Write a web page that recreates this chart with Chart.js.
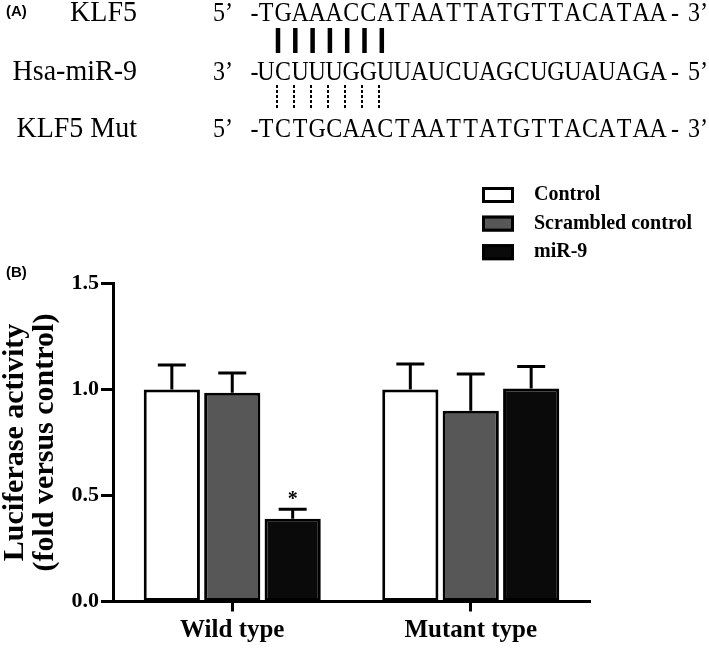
<!DOCTYPE html>
<html>
<head>
<meta charset="utf-8">
<script src="https://cdn.jsdelivr.net/npm/chart.js@4"></script>
<style>
body { margin: 0; background: #fff; }
</style>
</head>
<body>
<canvas id="myChart" width="709" height="650"></canvas>
<script>
// data
const categories = ["Wild type", "Mutant type"];
const seriesNames = ["Control", "Scrambled control", "miR-9"];
const controlValues = [1.0, 1.0];
const controlErr = [0.115, 0.12];
const scrambledValues = [0.985, 0.90];
const scrambledErr = [0.093, 0.173];
const mir9Values = [0.39, 1.005];
const mir9Err = [0.045, 0.103];
const yTicks = [0, 0.5, 1.0, 1.5];
const starred = [[2, 0]]; // dataset, category

// panel A text
const seqNames = ["KLF5", "Hsa-miR-9", "KLF5 Mut"];
const seqStart = ["5\u2019", "3\u2019", "5\u2019"];
const seqEnd = ["3\u2019", "5\u2019", "3\u2019"];
const seqs = ["TGAAACCATAATTATGTTACATAA", "UCUUUGGUUAUCUAGCUGUAUAGA", "TCTGCAACTAATTATGTTACATAA"];
const pairCount = 7;

const barColors = ["#ffffff", "#575757", "#0a0a0a"];
const errs = [controlErr, scrambledErr, mir9Err];

Chart.defaults.font.family = "'Liberation Serif', 'Times New Roman', serif";
Chart.defaults.color = "#000";

// text drawn a bit taller than wide, like the original figure
function tallText(ctx, txt, x, y, sy) {
  ctx.save();
  ctx.translate(x, y);
  ctx.scale(1, sy);
  ctx.fillText(txt, 0, 0);
  ctx.restore();
}

// draws panel A, legend, error bars
const extras = {
  id: "extras",
  afterDatasetsDraw(chart) {
    const ctx = chart.ctx;
    const y = chart.scales.y;
    ctx.save();
    ctx.strokeStyle = "#000";
    ctx.fillStyle = "#000";
    // error bars
    ctx.lineWidth = 3;
    chart.data.datasets.forEach(function (ds, d) {
      chart.getDatasetMeta(d).data.forEach(function (bar, i) {
        const top = y.getPixelForValue(ds.data[i]);
        const eTop = y.getPixelForValue(ds.data[i] + errs[d][i]);
        ctx.beginPath();
        ctx.moveTo(bar.x, top);
        ctx.lineTo(bar.x, eTop);
        ctx.moveTo(bar.x - 14, eTop);
        ctx.lineTo(bar.x + 14, eTop);
        ctx.stroke();
      });
    });
    // significance stars
    ctx.font = "bold 20px 'Liberation Serif'";
    ctx.textAlign = "center";
    ctx.textBaseline = "middle";
    starred.forEach(function (s) {
      const ds = chart.data.datasets[s[0]];
      const bar = chart.getDatasetMeta(s[0]).data[s[1]];
      const eTop = y.getPixelForValue(ds.data[s[1]] + errs[s[0]][s[1]]);
      ctx.fillText("*", bar.x, eTop - 9);
    });
    ctx.restore();
  },
  afterDraw(chart) {
    const ctx = chart.ctx;
    ctx.save();
    ctx.fillStyle = "#000";
    ctx.strokeStyle = "#000";

    // panel letters
    ctx.font = "bold 15px 'Liberation Sans'";
    ctx.textAlign = "left";
    ctx.textBaseline = "middle";
    ctx.fillText("(A)", 6, 12);
    ctx.fillText("(B)", 6, 273);

    // sequences
    const baselines = [21, 80, 137];
    for (let r = 0; r < 3; r++) {
      ctx.textBaseline = "alphabetic";
      ctx.font = "28px 'Liberation Serif'";
      ctx.textAlign = "right";
      tallText(ctx, seqNames[r], 137, baselines[r], 1.05);
      ctx.font = "24px 'Liberation Serif'";
      ctx.textAlign = "left";
      tallText(ctx, seqStart[r], 213, baselines[r], 1.1);
      ctx.textAlign = "center";
      tallText(ctx, "-", 254.5, baselines[r], 1.1);
      for (let i = 0; i < seqs[r].length; i++) {
        tallText(ctx, seqs[r][i], 266 + i * 17.05, baselines[r], 1.1);
      }
      tallText(ctx, "-", 675, baselines[r], 1.1);
      ctx.textAlign = "left";
      tallText(ctx, seqEnd[r], 688, baselines[r], 1.1);
    }
    // pairing lines
    ctx.lineWidth = 4.5;
    for (let i = 0; i < pairCount; i++) {
      ctx.beginPath();
      ctx.moveTo(278 + i * 17.3, 28);
      ctx.lineTo(278 + i * 17.3, 53);
      ctx.stroke();
    }
    ctx.lineWidth = 2;
    ctx.setLineDash([3, 2]);
    for (let i = 0; i < pairCount; i++) {
      ctx.beginPath();
      ctx.moveTo(277 + i * 17, 85);
      ctx.lineTo(277 + i * 17, 110);
      ctx.stroke();
    }
    ctx.setLineDash([]);

    // legend
    ctx.font = "bold 20px 'Liberation Serif'";
    ctx.textAlign = "left";
    ctx.textBaseline = "middle";
    chart.data.datasets.forEach(function (ds, d) {
      const top = 187 + d * 28.6;
      ctx.fillStyle = ds.backgroundColor;
      ctx.fillRect(482, top, 32, 16);
      ctx.lineWidth = 3;
      ctx.strokeRect(483.5, top + 1.5, 29, 13);
      ctx.fillStyle = "#000";
      ctx.fillText(ds.label, 534, top + 8);
    });
    ctx.restore();
  }
};

new Chart("myChart", {
  type: "bar",
  data: {
    labels: categories,
    datasets: [
      { label: seriesNames[0], data: controlValues, backgroundColor: barColors[0] },
      { label: seriesNames[1], data: scrambledValues, backgroundColor: barColors[1] },
      { label: seriesNames[2], data: mir9Values, backgroundColor: barColors[2] }
    ]
  },
  options: {
    responsive: false,
    animation: false,
    layout: { padding: { top: 283.5, right: 119, left: 0, bottom: 0 } },
    datasets: {
      bar: {
        borderColor: "#000",
        borderWidth: 3,
        borderSkipped: false,
        categoryPercentage: 0.76,
        barPercentage: 0.93
      }
    },
    plugins: {
      legend: { display: false },
      tooltip: { enabled: false }
    },
    scales: {
      x: {
        grid: { offset: false, drawOnChartArea: false, tickLength: 10, tickWidth: 3, color: "#000" },
        border: { width: 3, color: "#000" },
        ticks: { font: { size: 25, weight: "bold" }, padding: 4, color: "#000" },
        afterFit: function (scale) { scale.height = 48.5; }
      },
      y: {
        min: yTicks[0],
        max: yTicks[yTicks.length - 1],
        afterBuildTicks: function (scale) {
          scale.ticks = yTicks.map(function (v) { return { value: v }; });
        },
        grid: { drawOnChartArea: false, tickLength: 12, tickWidth: 3, color: "#000" },
        border: { width: 3, color: "#000" },
        ticks: {
          font: { size: 22, weight: "bold" },
          padding: 2,
          color: "#000",
          callback: function (v) { return Number(v).toFixed(1); }
        },
        title: {
          display: true,
          text: ["Luciferase activity", "(fold versus control)"],
          font: { size: 30, weight: "bold", lineHeight: 1.0 },
          padding: { top: 0, bottom: 0 },
          color: "#000"
        },
        afterFit: function (scale) { scale.width = 113; }
      }
    }
  },
  plugins: [extras]
});
</script>
</body>
</html>
